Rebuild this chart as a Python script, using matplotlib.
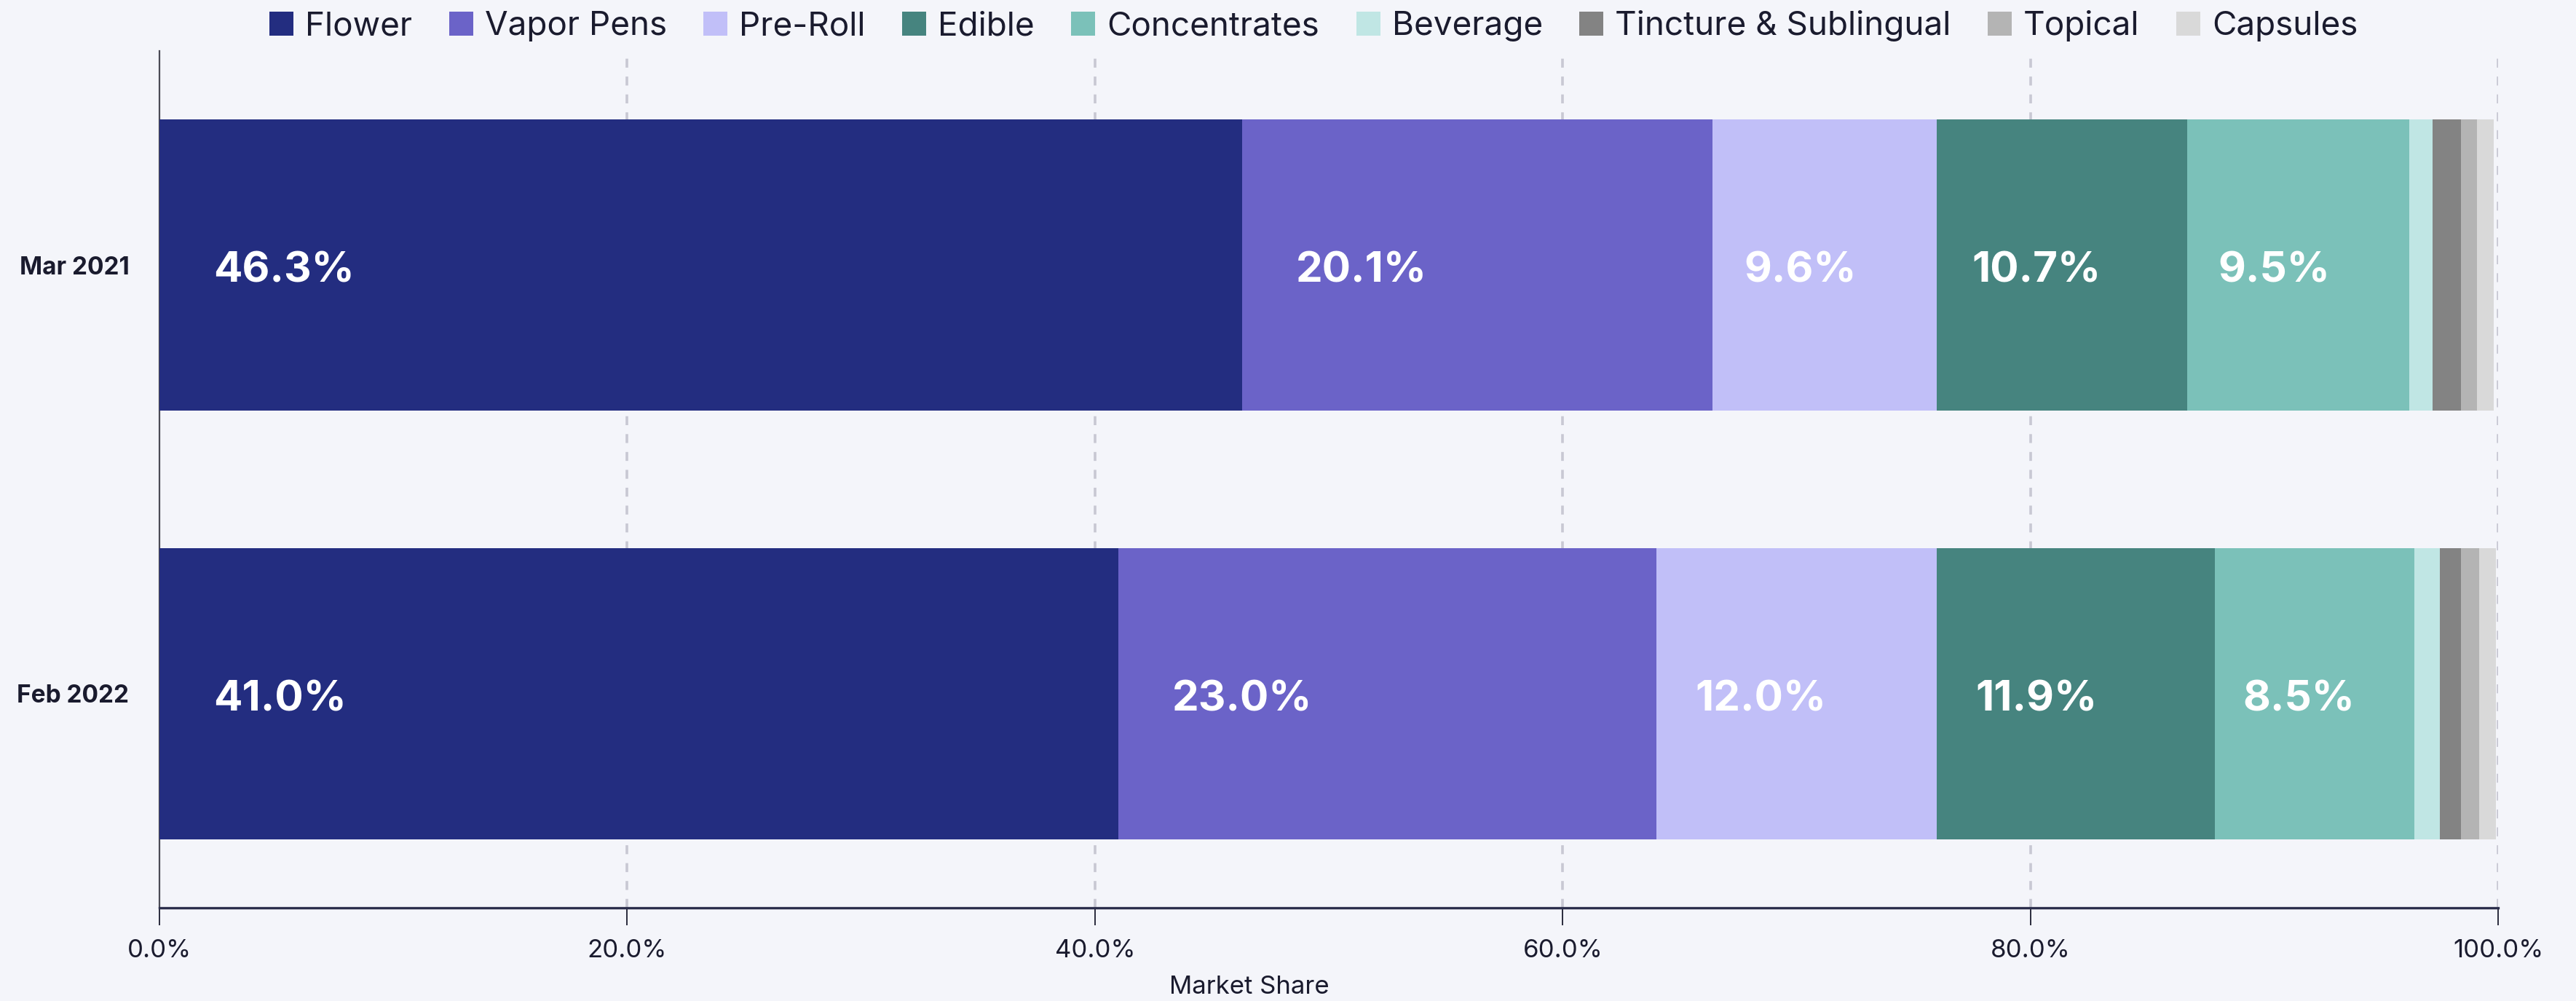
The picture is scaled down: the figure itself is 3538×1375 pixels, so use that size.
import numpy as np
import matplotlib
matplotlib.use('Agg')
import matplotlib.pyplot as plt
import matplotlib.transforms as mtransforms
from matplotlib.patches import Patch

plt.rcParams['font.family'] = ['Inter', 'DejaVu Sans']

periods = ['Mar 2021', 'Feb 2022']
categories = ['Flower', 'Vapor Pens', 'Pre-Roll', 'Edible', 'Concentrates',
              'Beverage', 'Tincture & Sublingual', 'Topical', 'Capsules']
mar_2021 = [46.3, 20.1, 9.6, 10.7, 9.5, 1.0, 1.2, 0.7, 0.7]
feb_2022 = [41.0, 23.0, 12.0, 11.9, 8.5, 1.1, 0.9, 0.8, 0.7]
x_ticks = [0, 20, 40, 60, 80, 100]

colors = ['#232d80', '#6b63c8', '#c1bff8', '#46847f', '#7bc1b9',
          '#c0e6e4', '#838383', '#b4b4b4', '#d9d9d9']
BG = '#f4f5fa'
TEXT = '#1a1b2e'

fig = plt.figure(figsize=(35.38, 13.75), dpi=100, facecolor=BG)
ax = fig.add_axes([0.0619, 0.0931, 0.9079, 0.8559], facecolor=BG)

# nudge value labels down so the digits sit on the bar's centre line
label_tf = mtransforms.offset_copy(ax.transData, fig=fig, x=0, y=-6, units='points')

shares = np.array([mar_2021, feb_2022])
y = np.arange(len(periods))
left = np.zeros(len(periods))
for i, cat in enumerate(categories):
    vals = shares[:, i]
    ax.barh(y, vals, left=left, height=0.68, color=colors[i], label=cat, zorder=3)
    for j in range(len(periods)):
        if vals[j] >= 5:
            pad = min(0.14 * vals[j], 2.3)
            ax.text(left[j] + pad, y[j], '{:.1f}%'.format(vals[j]), color='white',
                    fontsize=42, fontweight='bold', va='center', ha='left', zorder=4,
                    transform=label_tf)
    left += vals

ax.set_xlim(0, 100)
ax.set_ylim(1.5, -0.5)
ax.set_yticks(y)
ax.set_yticklabels(periods, fontsize=24, fontweight='bold', color=TEXT)
ax.tick_params(axis='y', length=0, pad=30)
ax.set_xticks(x_ticks)
ax.set_xticklabels(['{:.1f}%'.format(t) for t in x_ticks], fontsize=25, color=TEXT)
ax.tick_params(axis='x', length=17, width=1.3, color=TEXT, pad=14)

for t in x_ticks[1:]:
    ax.axvline(t, color='#c8c8d3', lw=2.6, ls=(0, (3.4, 3.4)), zorder=1)

for s in ['top', 'right']:
    ax.spines[s].set_visible(False)
ax.spines['left'].set_color('#4a4a55')
ax.spines['left'].set_linewidth(1.6)
ax.spines['bottom'].set_color('#2c2f4c')
ax.spines['bottom'].set_linewidth(2.4)

ax.set_xlabel('Market Share', fontsize=25, color=TEXT)
ax.xaxis.set_label_coords(0.466, -0.079)

handles = [Patch(facecolor=c, edgecolor='none') for c in colors]
fig.legend(handles, categories, loc='center', bbox_to_anchor=(0.51, 0.974), ncol=9,
           frameon=False, fontsize=33, handlelength=0.72, handleheight=0.72,
           handletextpad=0.35, columnspacing=1.1, labelcolor=TEXT)

fig.savefig('out.png', dpi=100, facecolor=BG)
